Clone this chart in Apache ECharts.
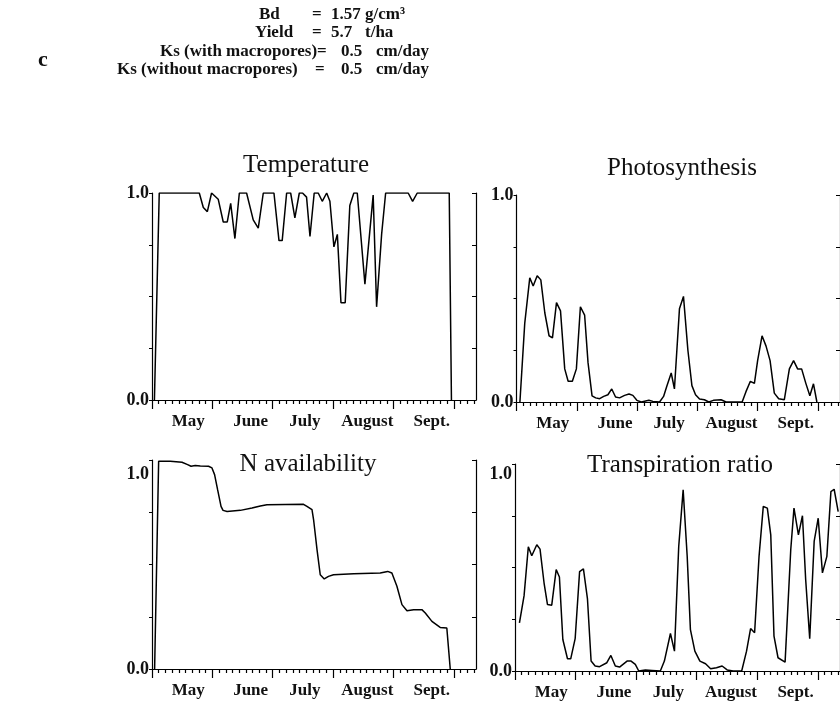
<!DOCTYPE html>
<html>
<head>
<meta charset="utf-8">
<script src="https://cdn.jsdelivr.net/npm/echarts@6/dist/echarts.min.js"></script>
<style>
html,body{margin:0;padding:0;background:#fff;}
#chart{width:840px;height:708px;}
</style>
</head>
<body>
<div id="chart"></div>
<script>
// ---------- data (x = day since start of season, y = ratio 0..1) ----------
const months = ['May', 'June', 'July', 'August', 'Sept.'];
const monthLabelPos = [18, 49, 76, 107, 139];
const majorTicks = [0, 30, 60, 90, 120, 150];
const minorPerMajor = 9;
const xMax = 161;
const yTicks = [0, 0.25, 0.5, 0.75, 1];
const panelTitles = ['Temperature', 'Photosynthesis', 'N availability', 'Transpiration ratio'];

const tempDays = [1.2, 3.6, 23.5, 25.5, 27.5, 29.6, 32.9, 35.4, 37.4, 39.1, 41.2, 43.4, 47.0, 50.3, 52.8, 55.3, 60.6, 63.1, 64.7, 66.9, 68.9, 71.0, 73.2, 74.8, 76.8, 78.5, 80.6, 82.6, 84.6, 86.8, 88.4, 90.4, 92.1, 93.9, 96.0, 98.3, 100.3, 102.0, 105.8, 109.9, 111.6, 114.1, 116.1, 127.3, 129.5, 131.8, 147.7, 148.8];
const tempVals = [0, 1, 1, 0.93, 0.91, 1, 0.97, 0.86, 0.86, 0.95, 0.78, 1, 1, 0.87, 0.83, 1, 1, 0.77, 0.77, 1, 1, 0.88, 1, 1, 0.98, 0.79, 1, 1, 0.96, 1, 0.96, 0.74, 0.80, 0.47, 0.47, 0.94, 1, 1, 0.56, 0.99, 0.45, 0.80, 1, 1, 0.96, 1, 1, 0];

const photoDays = [1.7, 4.1, 6.6, 8.3, 10.3, 12.1, 14.1, 16.2, 17.9, 19.9, 21.9, 24.0, 25.7, 27.8, 29.8, 31.8, 33.9, 35.6, 37.6, 39.4, 41.4, 43.4, 45.5, 47.4, 49.3, 51.3, 53.8, 56.0, 57.9, 59.9, 62.1, 65.9, 67.9, 71.2, 73.2, 74.8, 77.0, 78.6, 81.1, 83.1, 85.3, 87.3, 89.1, 91.1, 93.5, 95.7, 98.0, 101.8, 104.3, 112.3, 114.2, 116.4, 118.4, 120.0, 122.2, 124.2, 126.2, 128.3, 130.5, 133.3, 135.8, 137.9, 139.9, 141.9, 144.0, 146.0, 147.8, 149.5];
const photoVals = [0, 0.38, 0.60, 0.56, 0.61, 0.59, 0.43, 0.32, 0.31, 0.48, 0.44, 0.16, 0.10, 0.10, 0.16, 0.46, 0.42, 0.19, 0.03, 0.02, 0.016, 0.027, 0.035, 0.063, 0.024, 0.02, 0.032, 0.039, 0.032, 0.008, 0, 0.008, 0.003, 0, 0.027, 0.076, 0.14, 0.063, 0.45, 0.51, 0.25, 0.079, 0.035, 0.014, 0.011, 0, 0.008, 0.011, 0, 0, 0.05, 0.10, 0.09, 0.20, 0.32, 0.27, 0.20, 0.043, 0.016, 0.011, 0.16, 0.20, 0.16, 0.16, 0.09, 0.03, 0.088, 0];

const nDays = [1.3, 3.3, 9.1, 14.9, 17.7, 19.4, 21.5, 24.0, 28.1, 29.8, 31.1, 32.6, 34.3, 35.3, 37.3, 43.9, 49.7, 53.8, 57.1, 75.3, 77.0, 79.5, 80.3, 82.0, 83.6, 85.6, 87.7, 90.2, 100.2, 113.4, 117.1, 119.2, 121.7, 124.2, 126.7, 130.0, 134.1, 135.8, 139.1, 143.2, 146.5, 148.2];
const nVals = [0, 0.994, 0.994, 0.989, 0.978, 0.97, 0.974, 0.971, 0.97, 0.962, 0.93, 0.858, 0.778, 0.759, 0.754, 0.759, 0.77, 0.78, 0.786, 0.788, 0.778, 0.762, 0.714, 0.571, 0.451, 0.431, 0.443, 0.451, 0.456, 0.459, 0.467, 0.459, 0.396, 0.308, 0.279, 0.284, 0.284, 0.268, 0.228, 0.199, 0.196, 0];

const transDays = [2.2, 4.5, 6.6, 8.3, 10.8, 12.4, 14.4, 16.1, 18.2, 20.4, 22.0, 23.7, 26.0, 27.6, 29.8, 32.0, 33.9, 35.9, 37.7, 39.7, 41.9, 45.5, 47.5, 49.7, 51.8, 55.5, 57.5, 59.6, 61.3, 64.6, 67.9, 72.0, 74.0, 77.0, 79.0, 81.1, 83.3, 85.3, 86.9, 89.1, 91.6, 94.4, 96.9, 99.8, 102.6, 105.1, 108.1, 112.3, 114.7, 116.7, 118.7, 120.9, 123.0, 125.0, 126.7, 128.3, 130.3, 133.8, 136.6, 138.2, 140.4, 142.4, 144.0, 146.0, 148.2, 150.2, 152.3, 154.5, 156.5, 158.1, 160.1];
const transVals = [0.233, 0.364, 0.60, 0.557, 0.61, 0.589, 0.425, 0.321, 0.318, 0.49, 0.454, 0.152, 0.059, 0.059, 0.156, 0.48, 0.493, 0.348, 0.048, 0.024, 0.021, 0.04, 0.075, 0.024, 0.019, 0.048, 0.048, 0.032, 0, 0.005, 0.003, 0, 0.048, 0.181, 0.096, 0.60, 0.875, 0.554, 0.20, 0.096, 0.048, 0.035, 0.011, 0.016, 0.024, 0.005, 0, 0, 0.096, 0.205, 0.185, 0.554, 0.795, 0.787, 0.658, 0.169, 0.064, 0.043, 0.586, 0.787, 0.658, 0.75, 0.441, 0.156, 0.626, 0.738, 0.474, 0.554, 0.867, 0.878, 0.77];

// header text pieces: [text, x, y]
const headerPieces = [
  ['Bd', 259, 15], ['=', 312, 15], ['1.57', 331, 15], ['g/cm\u00B3', 365, 15],
  ['Yield', 255, 33], ['=', 312, 33], ['5.7', 331, 33], ['t/ha', 365, 33],
  ['Ks (with macropores)=', 160, 52], ['0.5', 341, 52], ['cm/day', 376, 52],
  ['Ks (without macropores)', 117, 70], ['=', 315, 70], ['0.5', 341, 70], ['cm/day', 376, 70]
];
const panelLetter = 'c';

// ---------- layout ----------
const SERIF = "'Liberation Serif','Times New Roman',serif";
const grids = [
  {left: 152, top: 193, width: 324, height: 207},
  {left: 516.5, top: 195, width: 328, height: 207},
  {left: 152, top: 460, width: 324, height: 209},
  {left: 515, top: 464, width: 326, height: 207}
];
const titlePos = [[306, 165.5], [682, 168], [308, 464], [680, 465]];
const labelShift = [0, 0, 28, 20];
const seriesSets = [[tempDays, tempVals], [photoDays, photoVals], [nDays, nVals], [transDays, transVals]];

const minorTicks = [];
for (let k = 0; k * (majorTicks[1] - majorTicks[0]) / minorPerMajor <= xMax; k++) {
  if (k % minorPerMajor !== 0) minorTicks.push(k * (majorTicks[1] - majorTicks[0]) / minorPerMajor);
}

const black = '#000';
const xAxes = [], yAxes = [], series = [], graphics = [];

grids.forEach((g, i) => {
  xAxes.push({
    type: 'value', gridIndex: i, min: 0, max: xMax, position: 'bottom',
    axisLine: {show: true, onZero: false, lineStyle: {color: black, width: 1.2}},
    axisTick: {show: true, customValues: majorTicks, length: 9, inside: false, lineStyle: {color: black, width: 1.2}},
    axisLabel: {show: true, customValues: monthLabelPos, margin: 22, verticalAlign: 'middle',
      formatter: v => months[monthLabelPos.indexOf(v)] || '',
      color: '#111', fontFamily: SERIF, fontWeight: 'bold', fontSize: 17},
    splitLine: {show: false}
  });
  xAxes.push({
    type: 'value', gridIndex: i, min: 0, max: xMax, position: 'bottom',
    axisLine: {show: false, onZero: false},
    axisTick: {show: true, customValues: minorTicks, length: 4, inside: false, lineStyle: {color: black, width: 1.2}},
    axisLabel: {show: false},
    splitLine: {show: false}
  });
  const shift = labelShift[i];
  yAxes.push({
    type: 'value', gridIndex: i, min: 0, max: 1, interval: 0.25, position: 'left',
    axisLine: {show: true, onZero: false, lineStyle: {color: black, width: 1.2}},
    axisTick: {show: true, length: 3, inside: false, lineStyle: {color: black, width: 1}},
    axisLabel: {show: true, margin: 3, color: '#111', fontFamily: SERIF, fontWeight: 'bold', fontSize: 18,
      formatter: v => v === 0 ? '0.0' : (v === 1 ? (shift ? '{d|1.0}' : '1.0') : ''),
      rich: {d: {fontFamily: SERIF, fontWeight: 'bold', fontSize: 18, color: '#111', padding: [shift, 0, 0, 0]}}},
    splitLine: {show: false}
  });
  yAxes.push({
    type: 'value', gridIndex: i, min: 0, max: 1, interval: 0.25, position: 'right',
    axisLine: {show: true, onZero: false, lineStyle: {color: black, width: 1.2}},
    axisTick: {show: true, length: 4, inside: true, lineStyle: {color: black, width: 1}},
    axisLabel: {show: false},
    splitLine: {show: false}
  });
  const [dx, vy] = seriesSets[i];
  series.push({
    type: 'line', xAxisIndex: 2 * i, yAxisIndex: 2 * i,
    data: dx.map((d, j) => [d, vy[j]]),
    showSymbol: false, symbol: 'none', animation: false, silent: true,
    lineStyle: {color: black, width: 1.5}
  });
  graphics.push({
    type: 'text', x: titlePos[i][0], y: titlePos[i][1],
    style: {text: panelTitles[i], fill: '#111', font: '25px ' + SERIF,
      textAlign: 'center', textVerticalAlign: 'middle', align: 'center', verticalAlign: 'middle'}
  });
});

headerPieces.forEach(p => {
  graphics.push({
    type: 'text', x: p[1], y: p[2],
    style: {text: p[0], fill: '#111', font: 'bold 17px ' + SERIF,
      textAlign: 'left', textVerticalAlign: 'middle', align: 'left', verticalAlign: 'middle'}
  });
});
graphics.push({
  type: 'text', x: 38, y: 60,
  style: {text: panelLetter, fill: '#111', font: 'bold 22px ' + SERIF,
    textAlign: 'left', textVerticalAlign: 'middle', align: 'left', verticalAlign: 'middle'}
});

const chart = echarts.init(document.getElementById('chart'), null, {renderer: 'canvas'});
chart.setOption({
  backgroundColor: '#fff',
  animation: false,
  grid: grids.map(g => Object.assign({containLabel: false}, g)),
  xAxis: xAxes,
  yAxis: yAxes,
  series: series,
  graphic: graphics
});
</script>
</body>
</html>
